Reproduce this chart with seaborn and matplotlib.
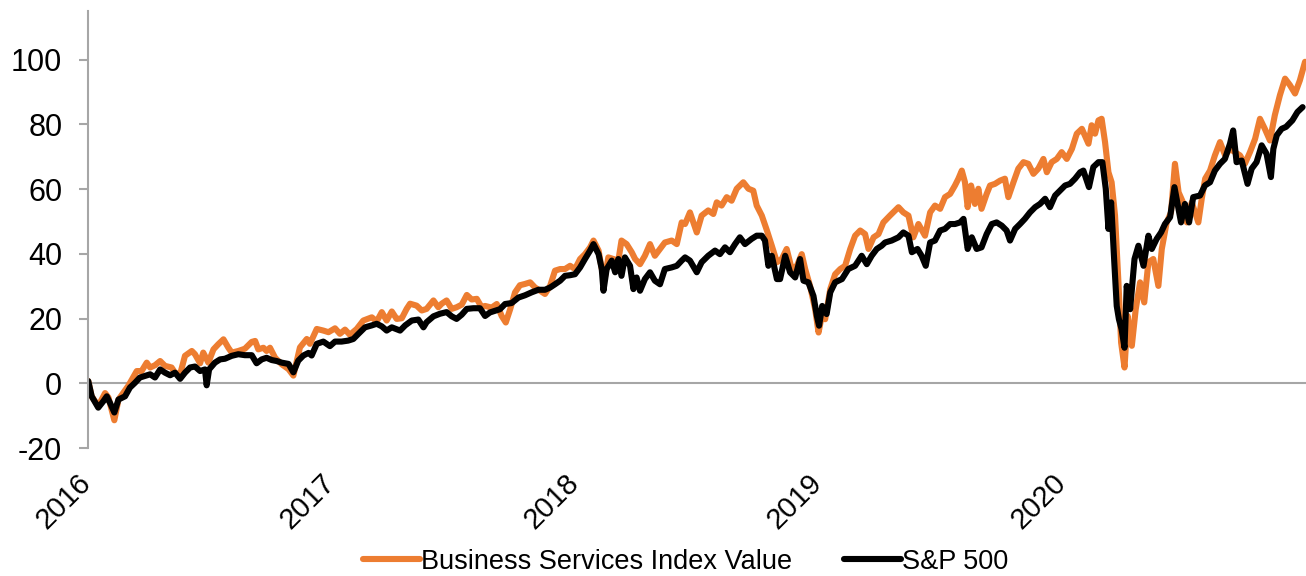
import numpy as np
import pandas as pd
import matplotlib
matplotlib.use("Agg")
import matplotlib.pyplot as plt
import matplotlib.transforms as mtransforms
import seaborn as sns
from matplotlib.lines import Line2D

# ---- data (years elapsed since 1 Jan 2016, cumulative return %) ----
bs_t = [0.001, 0.015, 0.042, 0.070, 0.084, 0.108, 0.125, 0.165, 0.200, 0.220, 0.241, 0.255, 0.275, 0.296,
        0.316, 0.343, 0.357, 0.378, 0.398, 0.426, 0.439, 0.460, 0.473, 0.494, 0.515, 0.535, 0.556, 0.576,
        0.590, 0.617, 0.644, 0.672, 0.686, 0.699, 0.720, 0.733, 0.747, 0.768, 0.795,
        0.823, 0.843, 0.870, 0.898, 0.911, 0.939, 0.966, 0.987, 1.014, 1.034, 1.055, 1.075, 1.103, 1.130,
        1.165, 1.185, 1.206, 1.226, 1.247, 1.267, 1.288, 1.308, 1.322, 1.349, 1.370, 1.390, 1.418, 1.438,
        1.452, 1.472, 1.493, 1.513, 1.534, 1.555, 1.575, 1.596, 1.616,
        1.630, 1.657, 1.678, 1.698, 1.715, 1.733, 1.753, 1.773, 1.794, 1.815, 1.835, 1.856, 1.876, 1.897,
        1.917, 1.938, 1.958, 1.979, 1.999, 2.020, 2.040, 2.061, 2.075, 2.096, 2.109, 2.123, 2.136, 2.157,
        2.177, 2.190, 2.211, 2.232, 2.246, 2.266, 2.286, 2.307, 2.327, 2.348, 2.368, 2.396, 2.417, 2.437,
        2.451, 2.471, 2.499, 2.519, 2.546, 2.567, 2.581, 2.601, 2.622, 2.642, 2.663, 2.690, 2.711, 2.731,
        2.745, 2.766, 2.787, 2.807, 2.828, 2.848, 2.868, 2.889, 2.910, 2.930, 2.944, 2.964, 2.985, 2.999,
        3.012, 3.026, 3.047, 3.067, 3.088, 3.108, 3.129, 3.149, 3.170, 3.190, 3.204, 3.225, 3.245, 3.265,
        3.292, 3.327, 3.347, 3.368, 3.388, 3.409, 3.436, 3.457, 3.477, 3.498, 3.518, 3.539, 3.559, 3.573,
        3.587, 3.600, 3.611, 3.625, 3.641, 3.655, 3.668, 3.689, 3.703, 3.723, 3.744, 3.764, 3.778, 3.799,
        3.819, 3.840, 3.860, 3.881, 3.901, 3.922, 3.936, 3.956, 3.977, 3.997, 4.018, 4.039, 4.059, 4.080,
        4.107, 4.120, 4.134, 4.148, 4.161, 4.175, 4.189, 4.202, 4.216, 4.230, 4.241, 4.255, 4.268, 4.285,
        4.301, 4.319, 4.336, 4.353, 4.373, 4.394, 4.408, 4.428, 4.446, 4.462, 4.477, 4.495, 4.511, 4.531,
        4.558, 4.572, 4.586, 4.606, 4.626, 4.647, 4.668, 4.688, 4.708, 4.729, 4.749, 4.770, 4.791, 4.811,
        4.831, 4.852, 4.872, 4.893, 4.914, 4.934, 4.955, 4.975, 4.996]
bs_val = [0.7, -4.0, -7.0, -3.0, -4.4, -11.4, -5.0, -0.8, 3.8, 3.8, 6.4, 4.9, 5.6, 6.9,
          5.4, 4.9, 3.3, 2.8, 8.5, 10.0, 9.0, 6.2, 9.5, 6.4, 10.5, 12.1, 13.6, 11.0,
          9.5, 10.0, 10.7, 12.8, 13.1, 10.5, 11.0, 10.0, 11.0, 7.9, 5.9,
          4.4, 2.4, 11.1, 13.7, 12.2, 16.8, 16.3, 15.8, 17.0, 15.3, 16.6, 15.0, 16.8, 19.4,
          20.4, 19.1, 22.0, 19.4, 22.2, 19.9, 20.1, 23.0, 24.6, 24.0, 22.5, 23.0, 25.6, 23.5,
          24.6, 25.6, 23.0, 23.5, 24.3, 27.3, 25.9, 26.1, 23.5,
          23.9, 23.4, 24.5, 20.8, 18.8, 22.9, 28.1, 30.3, 30.7, 31.2, 29.6, 28.6, 27.6, 30.1,
          34.8, 35.3, 35.3, 36.3, 35.3, 38.4, 39.9, 42.0, 44.1, 41.0, 35.3, 33.2, 38.9, 38.4,
          37.9, 44.1, 43.0, 40.5, 38.4, 36.8, 39.4, 43.0, 39.4, 41.5, 43.5, 44.1, 43.0, 49.7,
          49.2, 52.8, 46.6, 51.8, 53.4, 52.3, 55.9, 54.9, 57.5, 56.4, 60.1, 62.1, 60.1, 59.5,
          54.9, 51.8, 47.2, 42.5, 37.4, 38.4, 41.5, 35.3, 36.3, 39.9, 35.3, 30.1, 22.9, 15.7,
          20.8, 19.8, 29.1, 33.7, 35.3, 36.3, 41.5, 45.6, 47.2, 46.1, 41.5, 45.1, 46.1, 49.7,
          51.8, 54.4, 52.8, 51.8, 45.1, 49.2, 45.6, 52.8, 54.9, 53.9, 57.5, 58.5, 61.1, 63.2,
          65.7, 62.1, 54.4, 61.1, 55.4, 60.1, 53.9, 58.5, 61.1, 61.6, 62.6, 63.2, 57.5, 62.1,
          66.3, 68.3, 67.8, 64.7, 66.3, 69.3, 65.2, 68.3, 69.3, 71.4, 69.3, 72.4, 77.1, 78.6,
          74.0, 79.7, 77.1, 81.2, 81.7, 74.5, 65.2, 62.1, 51.8, 31.2, 12.6, 4.9, 20.8, 11.6,
          22.9, 31.2, 25.0, 37.4, 38.4, 30.1, 41.5, 49.7, 52.8, 67.8, 59.0, 55.9, 49.7, 55.9,
          49.7, 57.0, 63.2, 65.7, 70.4, 74.5, 70.4, 72.4, 71.4, 70.4, 67.8, 71.4, 75.5, 81.7,
          78.6, 75.0, 82.8, 89.0, 94.1, 92.1, 89.5, 93.6, 99.3]

sp_t = [0.001, 0.015, 0.042, 0.063, 0.077, 0.090, 0.108, 0.125, 0.152, 0.172, 0.193, 0.213, 0.234, 0.255,
        0.275, 0.296, 0.316, 0.337, 0.357, 0.378, 0.398, 0.419, 0.439, 0.460, 0.480, 0.487, 0.497, 0.521,
        0.542, 0.562, 0.590, 0.617, 0.644, 0.672, 0.692, 0.713, 0.733, 0.754, 0.774, 0.795,
        0.823, 0.843, 0.863, 0.884, 0.905, 0.918, 0.939, 0.966, 0.993, 1.014, 1.041, 1.068, 1.089, 1.110,
        1.137, 1.165, 1.185, 1.206, 1.226, 1.247, 1.281, 1.302, 1.329, 1.356, 1.377, 1.390, 1.418, 1.445,
        1.472, 1.493, 1.513, 1.534, 1.555, 1.582, 1.609,
        1.630, 1.650, 1.671, 1.691, 1.712, 1.739, 1.767, 1.794, 1.821, 1.849, 1.876, 1.897, 1.917, 1.938,
        1.958, 1.979, 1.999, 2.020, 2.040, 2.061, 2.075, 2.096, 2.109, 2.116, 2.129, 2.150, 2.164, 2.177,
        2.190, 2.204, 2.225, 2.239, 2.252, 2.266, 2.286, 2.307, 2.327, 2.348, 2.368, 2.396, 2.417, 2.437,
        2.451, 2.471, 2.499, 2.519, 2.546, 2.574, 2.594, 2.615, 2.635, 2.656, 2.676, 2.697, 2.724, 2.745,
        2.766, 2.779, 2.793, 2.807, 2.828, 2.841, 2.862, 2.882, 2.903, 2.923, 2.937, 2.957, 2.978, 2.992,
        3.001, 3.014, 3.032, 3.047, 3.067, 3.095, 3.121, 3.149, 3.176, 3.197, 3.217, 3.238, 3.258,
        3.272, 3.299, 3.327, 3.347, 3.368, 3.382, 3.405, 3.422, 3.439, 3.457, 3.477, 3.498, 3.518, 3.539,
        3.559, 3.580, 3.594, 3.611, 3.628, 3.648, 3.668, 3.689, 3.710, 3.730, 3.751, 3.771, 3.785, 3.806,
        3.826, 3.846, 3.867, 3.888, 3.908, 3.929, 3.949, 3.970, 3.990, 4.011, 4.031, 4.052, 4.073, 4.086,
        4.109, 4.127, 4.148, 4.164, 4.178, 4.189, 4.200, 4.213, 4.223, 4.232, 4.243, 4.255, 4.264, 4.278,
        4.296, 4.312, 4.333, 4.353, 4.367, 4.387, 4.405, 4.421, 4.442, 4.460, 4.474, 4.487, 4.503, 4.520,
        4.537, 4.565, 4.585, 4.606, 4.626, 4.647, 4.667, 4.688, 4.701, 4.715, 4.736, 4.760, 4.777, 4.797,
        4.818, 4.838, 4.856, 4.866, 4.880, 4.900, 4.918, 4.944, 4.965, 4.986]
sp_val = [0.7, -4.0, -7.5, -5.5, -4.0, -6.0, -9.0, -5.0, -4.0, -1.3, 0.2, 1.8, 2.3, 2.8,
          1.8, 4.3, 3.3, 2.5, 3.3, 1.4, 3.3, 4.9, 5.2, 3.8, 4.3, -0.6, 4.3, 6.4,
          7.4, 7.6, 8.5, 9.0, 8.7, 8.7, 6.2, 7.4, 7.9, 7.2, 6.9, 6.4,
          6.0, 3.4, 7.0, 8.6, 9.4, 8.6, 12.2, 12.9, 11.5, 12.9, 12.9, 13.2, 13.7, 15.3,
          17.3, 17.9, 18.4, 17.6, 16.3, 17.3, 16.3, 17.9, 19.4, 19.7, 17.3, 18.9, 20.7, 21.5,
          22.0, 20.7, 19.9, 21.2, 23.0, 23.2, 23.2,
          20.8, 21.9, 22.4, 22.9, 24.5, 24.8, 26.5, 27.2, 28.1, 28.9, 28.9, 29.6, 30.6, 31.7,
          33.2, 33.4, 33.7, 35.8, 38.4, 41.0, 43.0, 39.9, 35.3, 28.6, 35.3, 37.9, 34.3, 38.4,
          33.2, 38.9, 36.3, 29.1, 32.7, 28.6, 32.2, 34.3, 31.7, 30.6, 35.3, 35.8, 36.3, 37.9,
          38.9, 37.9, 34.3, 37.4, 39.4, 41.0, 39.9, 42.0, 40.5, 43.0, 45.1, 43.0, 44.6, 45.6,
          45.6, 44.1, 36.3, 39.4, 32.2, 32.2, 39.4, 34.3, 32.7, 38.4, 31.7, 31.2, 27.0, 20.8,
          17.8, 23.9, 21.4, 28.1, 31.2, 32.2, 35.3, 36.3, 39.4, 36.8, 39.4, 41.5, 42.5,
          43.5, 44.1, 45.1, 46.6, 45.6, 40.5, 41.5, 39.4, 36.3, 43.5, 44.1, 47.2, 47.7, 49.2,
          49.2, 49.7, 50.8, 41.5, 45.1, 41.5, 42.0, 46.1, 49.2, 49.7, 48.7, 47.2, 44.1, 47.7,
          49.2, 50.8, 52.8, 54.4, 55.4, 57.0, 54.4, 58.0, 59.5, 61.1, 61.6, 63.2, 65.2, 65.7,
          60.6, 66.8, 68.3, 68.3, 60.1, 47.7, 55.9, 37.4, 23.9, 19.8, 16.7, 11.0, 30.1, 22.9,
          38.4, 42.5, 36.3, 45.6, 41.5, 44.6, 46.6, 49.2, 51.3, 60.6, 54.9, 49.7, 55.4, 49.7,
          57.5, 58.0, 61.1, 62.1, 65.7, 67.8, 69.3, 74.0, 78.1, 68.3, 68.8, 61.6, 66.3, 68.3,
          73.5, 70.9, 63.7, 72.4, 76.6, 78.6, 79.2, 81.2, 83.8, 85.3]

series_names = ["Business Services Index Value", "S&P 500"]
series_colors = ["#ED7D31", "#000000"]
year_ticks = [2016, 2017, 2018, 2019, 2020]
y_ticks = [-20, 0, 20, 40, 60, 80, 100]

df = pd.concat([
    pd.DataFrame({"year": 2016 + np.array(bs_t), "value": bs_val, "series": series_names[0]}),
    pd.DataFrame({"year": 2016 + np.array(sp_t), "value": sp_val, "series": series_names[1]}),
], ignore_index=True)

sns.set_theme(style="white")
plt.rcParams["font.family"] = ["Liberation Sans", "DejaVu Sans"]
plt.rcParams["text.color"] = "black"

fig = plt.figure(figsize=(13.06, 5.76), dpi=100)
ax = fig.add_axes([0.0674, 0.222, 0.9326, 0.759])

sns.lineplot(data=df, x="year", y="value", hue="series", hue_order=series_names,
             palette=dict(zip(series_names, series_colors)), estimator=None, sort=False,
             linewidth=4.4, ax=ax, legend=False)

ax.axhline(0, color="#A6A6A6", linewidth=1.5, zorder=0)
ax.set_xlim(2016, 2021)
ax.set_ylim(-20, 115)
ax.set_yticks(y_ticks)
ax.set_yticklabels([str(v) for v in y_ticks])
ax.set_xticks(year_ticks)
ax.set_xticklabels([str(y) for y in year_ticks], rotation=45, ha="right")
ax.set_xlabel("")
ax.set_ylabel("")

for s in ["top", "right", "bottom"]:
    ax.spines[s].set_visible(False)
ax.spines["left"].set_color("#A6A6A6")
ax.spines["left"].set_linewidth(1.5)

ax.tick_params(axis="y", which="major", length=6.5, width=1.5, color="#A6A6A6",
               direction="out", pad=12, labelsize=22, labelcolor="black", left=True)
ax.tick_params(axis="x", which="major", length=0, pad=15, labelsize=21, labelcolor="black")

shift = mtransforms.ScaledTranslation(9 / 100, 0, fig.dpi_scale_trans)
for lab in ax.get_xticklabels():
    lab.set_transform(lab.get_transform() + shift)

handles = [Line2D([0], [0], color=c, lw=4.4) for c in series_colors]
fig.legend(handles, series_names, loc="center", bbox_to_anchor=(0.525, 0.025), ncol=2,
           frameon=False, fontsize=19.5, handlelength=2.1, handletextpad=0.05, columnspacing=1.9)

fig.savefig("out.png", dpi=100)
